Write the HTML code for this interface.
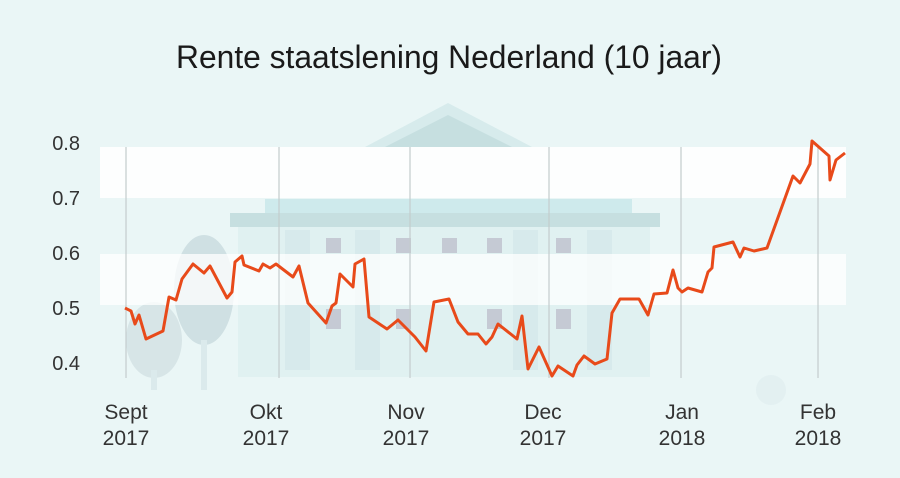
<!DOCTYPE html>
<html><head><meta charset="utf-8"><style>
body{margin:0;background:#eaf6f6;}
svg{display:block;font-family:"Liberation Sans",sans-serif;}
</style></head><body>
<svg width="900" height="478" viewBox="0 0 900 478">
<rect width="900" height="478" fill="#eaf6f6"/>
<g opacity="0.7">
<polygon points="448,103 365,147 532,147" fill="#cfe7e8"/>
<polygon points="448,115 385,147 512,147" fill="#b7d6d8"/>
<rect x="265" y="199" width="367" height="15" fill="#c3e5e8"/>
<rect x="230" y="213" width="430" height="14" fill="#b7d6d8"/>
<rect x="238" y="227" width="412" height="150" fill="#dceff0"/>
<g fill="#d0e6e8">
<rect x="285" y="230" width="25" height="140"/><rect x="355" y="230" width="25" height="140"/>
<rect x="513" y="230" width="25" height="140"/><rect x="587" y="230" width="25" height="140"/>
</g>
<g fill="#b6b8c6">
<rect x="326" y="238" width="15" height="15"/><rect x="396" y="238" width="15" height="15"/><rect x="442" y="238" width="15" height="15"/><rect x="487" y="238" width="15" height="15"/><rect x="556" y="238" width="15" height="15"/>
<rect x="326" y="309" width="15" height="20"/><rect x="396" y="309" width="15" height="20"/><rect x="487" y="309" width="15" height="20"/><rect x="556" y="309" width="15" height="20"/>
</g>
<ellipse cx="154" cy="340" rx="28" ry="38" fill="#cfdfe2"/>
<rect x="151" y="370" width="6" height="20" fill="#d6e6e8"/>
<ellipse cx="204" cy="290" rx="30" ry="55" fill="#c4d7db"/>
<rect x="201" y="340" width="6" height="50" fill="#d6e6e8"/>
<circle cx="771" cy="390" r="15" fill="#dfeeef"/>
</g>
<rect x="100" y="147" width="746" height="51" fill="#ffffff" opacity="0.88"/>
<rect x="100" y="254" width="746" height="51" fill="#ffffff" opacity="0.75"/>
<g stroke="#c4cccd" stroke-width="1.2">
<line x1="126" y1="147" x2="126" y2="378"/><line x1="279" y1="147" x2="279" y2="378"/>
<line x1="410" y1="147" x2="410" y2="378"/><line x1="549" y1="147" x2="549" y2="378"/>
<line x1="681" y1="147" x2="681" y2="378"/><line x1="818" y1="147" x2="818" y2="378"/>
</g>
<text x="449" y="68" text-anchor="middle" font-size="32" fill="#1a1a1a" textLength="546" lengthAdjust="spacingAndGlyphs">Rente staatslening Nederland (10 jaar)</text>
<g font-size="20" fill="#333" text-anchor="end">
<text x="80" y="150">0.8</text><text x="80" y="205">0.7</text><text x="80" y="260">0.6</text><text x="80" y="315">0.5</text><text x="80" y="370">0.4</text>
</g>
<g font-size="21" fill="#333" text-anchor="middle">
<text x="126" y="419">Sept</text><text x="126" y="445">2017</text>
<text x="266" y="419">Okt</text><text x="266" y="445">2017</text>
<text x="406" y="419">Nov</text><text x="406" y="445">2017</text>
<text x="543" y="419">Dec</text><text x="543" y="445">2017</text>
<text x="682" y="419">Jan</text><text x="682" y="445">2018</text>
<text x="818" y="419">Feb</text><text x="818" y="445">2018</text>
</g>
<polyline fill="none" stroke="#e84a1a" stroke-width="3" stroke-linejoin="round" points="125,308 131,311 135,324 139,315 146,339 163,331 169,297 176,300 182,279 193,264 204,273 210,266 227,298 232,292 235,262 242,256 244,265 259,271 263,264 270,268 276,264 293,277 299,266 308,303 326,323 332,306 336,303 340,274 353,287 355,264 364,259 369,317 387,329 398,320 415,337 426,351 434,302 449,299 458,322 468,334 478,334 486,344 492,337 498,324 517,339 522,316 528,369 539,347 552,376 558,366 573,376 577,365 584,356 595,364 607,359 612,313 620,299 639,299 648,315 654,294 667,293 673,270 678,288 682,292 688,288 702,292 708,272 712,268 714,247 733,242 740,257 744,248 754,251 767,248 793,176 800,183 810,164 812,141 829,156 830,180 836,160 845,153"/>
</svg>
</body></html>
